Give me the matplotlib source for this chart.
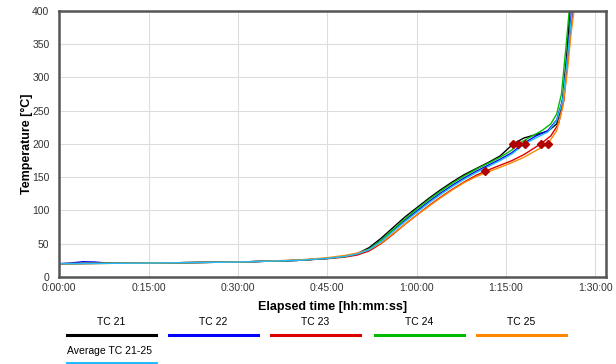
import matplotlib.pyplot as plt
from matplotlib.lines import Line2D
from matplotlib.ticker import FuncFormatter, MultipleLocator

plt.rcParams['font.family'] = ['Liberation Sans', 'DejaVu Sans']

# time in minutes, temperature in degC
t21 = [0, 5, 15, 30, 40, 45, 48, 50, 52, 54, 56, 58, 60, 62, 64, 66, 68, 70, 72, 74, 76.2, 78, 80, 82, 83.5, 84.4, 85.2, 85.7]
T21 = [20, 20.5, 21, 22.5, 25, 28, 31, 35, 44, 58, 74, 90, 104, 118, 131, 143, 154, 163, 172, 182, 200, 209, 214, 219, 230, 260, 335, 400]

t22 = [0, 2, 4, 6, 8, 15, 30, 40, 45, 48, 50, 52, 54, 56, 58, 60, 62, 64, 66, 68, 70, 72, 74, 76, 77.8, 80, 82, 83.5, 84.6, 85.4, 86.0]
T22 = [20, 21, 23, 22.5, 21, 21, 22.5, 25, 28, 31, 35, 42, 55, 70, 85, 99, 113, 126, 138, 149, 159, 168, 177, 187, 200, 212, 220, 236, 270, 340, 400]

t23 = [0, 15, 30, 40, 45, 48, 50, 52, 54, 56, 58, 60, 62, 64, 66, 68, 70, 71.5, 74, 76, 78, 80.8, 82.5, 83.8, 84.7, 85.4, 86.2]
T23 = [20, 21, 22.5, 25, 27.5, 30, 33, 39, 50, 64, 79, 93, 107, 120, 132, 143, 153, 159, 168, 175, 184, 200, 212, 230, 265, 330, 400]

t24 = [0, 15, 30, 40, 45, 48, 50, 52, 54, 56, 58, 60, 62, 64, 66, 68, 70, 72, 74, 76, 77.0, 79, 81, 82.5, 83.5, 84.3, 85.0, 85.6]
T24 = [20, 21, 22.5, 25, 28, 31, 35, 42, 55, 71, 87, 102, 116, 129, 141, 152, 162, 171, 180, 191, 200, 210, 220, 230, 245, 275, 340, 400]

t25 = [0, 15, 30, 40, 45, 48, 50, 52, 54, 56, 58, 60, 62, 64, 66, 68, 70, 72, 74, 76, 78, 80, 82, 83.5, 84.5, 85.3, 85.9, 86.4]
T25 = [20, 21, 22.5, 25.5, 29, 32.5, 36, 41, 51, 65, 79, 93, 106, 119, 131, 142, 151, 158, 165, 172, 180, 190, 200, 220, 255, 310, 365, 400]

t_avg = [0, 15, 30, 40, 45, 48, 50, 52, 54, 56, 58, 60, 62, 64, 66, 68, 70, 72, 74, 76, 78.1, 80, 82, 83.5, 84.5, 85.3, 86.1]
T_avg = [20, 21, 22.5, 25, 28, 31, 34.5, 41, 53, 68, 83, 97, 111, 124, 136, 147, 157, 166, 175, 185, 200, 209, 218, 235, 265, 330, 400]

# failure markers
mark_t = [71.5, 76.2, 77.0, 78.1, 80.8, 82.0]
mark_T = [159, 200, 200, 200, 200, 200]

labels = ['TC 21', 'TC 22', 'TC 23', 'TC 24', 'TC 25', 'Average TC 21-25']
colors = ['#000000', '#0000ff', '#dd0000', '#00bb00', '#ff8800', '#22bbff']
series = [(t21, T21), (t22, T22), (t23, T23), (t24, T24), (t25, T25), (t_avg, T_avg)]

fig = plt.figure(figsize=(6.16, 3.64), dpi=100)
ax = fig.add_axes([0.096, 0.239, 0.888, 0.731])

for (t, T), c in zip(series, colors):
    ax.plot(t, T, color=c, lw=1.0)
ax.plot(mark_t, mark_T, 'D', color='#b00000', ms=4.5, ls='none', zorder=5)

ax.set_xlim(0, 91.8)
ax.set_ylim(0, 400)
ax.xaxis.set_major_locator(MultipleLocator(15))
ax.yaxis.set_major_locator(MultipleLocator(50))
ax.xaxis.set_major_formatter(FuncFormatter(lambda v, p: '%d:%02d:00' % (int(v) // 60, int(v) % 60)))
ax.grid(color='#dddddd', lw=0.8)
ax.tick_params(labelsize=7.5, length=0, colors='#333333')
ax.tick_params(axis='x', pad=4)
ax.tick_params(axis='y', pad=7)
for s in ax.spines.values():
    s.set_color('#555555')
    s.set_linewidth(1.8)
ax.set_xlabel('Elapsed time [hh:mm:ss]', fontsize=9, fontweight='bold', labelpad=6)
ax.set_ylabel('Temperature [°C]', fontsize=9, fontweight='bold', labelpad=-1)

# legend: label above line segment
x0s = [67, 169, 271, 375, 477]
for i in range(5):
    x0 = x0s[i] / 616
    x1 = (x0s[i] + 89) / 616
    fig.text((x0 + x1) / 2, 1 - 322 / 364, labels[i], ha='center', va='center', fontsize=7.5)
    fig.add_artist(Line2D([x0, x1], [1 - 335 / 364] * 2, color=colors[i], lw=2.2))
fig.text(67 / 616, 1 - 351 / 364, labels[5], ha='left', va='center', fontsize=7.5)
fig.add_artist(Line2D([67 / 616, 156 / 616], [1 - 363 / 364] * 2, color=colors[5], lw=2.2))

fig.savefig('out.png', dpi=100)
